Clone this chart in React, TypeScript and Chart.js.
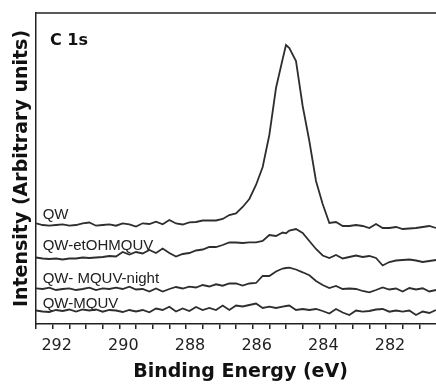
import { useEffect, useRef } from "react";
import { Chart, registerables } from "chart.js";

Chart.register(...registerables);

// Binding energies (eV) of the sampled points
const energies = [
  292.5, 292.3, 292.1, 291.9, 291.7, 291.5, 291.3, 291.1, 290.9, 290.7,
  290.5, 290.3, 290.1, 289.9, 289.7, 289.5, 289.3, 289.1, 288.9, 288.7,
  288.5, 288.3, 288.1, 287.9, 287.7, 287.5, 287.3, 287.1, 286.9, 286.7,
  286.5, 286.3, 286.1, 285.9, 285.7, 285.5, 285.3, 285.1, 285.0, 284.9, 284.7,
  284.5, 284.3, 284.1, 283.9, 283.7, 283.5, 283.3, 283.1, 282.9, 282.7,
  282.5, 282.3, 282.1, 281.9, 281.7, 281.5, 281.3, 281.1, 280.9, 280.7,
  280.5,
];

// Stacked intensities (arbitrary units)
const qw = [
  100.7, 99, 98.3, 99, 99.7, 98.3, 99, 100.7, 101.5, 98.3,
  99, 99.7, 98.3, 100.7, 99.7, 97.5, 100.7, 100, 102.3, 99.7,
  104, 100.5, 99.5, 101.7, 102, 103.5, 103.5, 103.5, 105, 109,
  110.5, 117, 125, 139, 157, 189, 236, 265, 279, 276, 263,
  218, 183, 143, 120, 101, 102, 98, 98, 99, 98,
  96, 100, 96, 96, 97, 95, 95.5, 96, 97, 98,
  96,
];
const qwEtOHMQUV = [
  66.5, 65.5, 65, 65.5, 64.5, 65.5, 65.5, 66.5, 66, 66.5,
  67, 68, 67.5, 72, 69.5, 72, 70.5, 74, 71, 75.5,
  71, 67.5, 70, 71, 73.5, 74.5, 77, 77, 79, 81.5,
  81.5, 81, 81.7, 81.7, 83, 89, 88, 91.5, 90.7, 93.5, 95,
  91, 83, 75, 68.5, 66, 69, 65.5, 67, 68.5, 67,
  68, 66, 58.5, 62, 63.5, 64, 64.5, 63.5, 62, 63,
  64,
];
const qwMQUVNight = [
  35.7, 35, 36.3, 34, 35, 35.7, 34, 35, 36.3, 34,
  35.7, 35, 36.3, 35, 37.3, 34.5, 35, 32.5, 35.5, 32.5,
  35, 37, 35.5, 37.3, 36.5, 39, 37.5, 39.7, 38.3, 40.5,
  40.5, 38.5, 40.5, 41, 48, 48, 52.5, 55.5, 56, 56.3, 54.5,
  51.7, 48.7, 43, 39, 36, 38, 35, 35.5, 35, 33,
  31.7, 34, 36.5, 34.5, 35.5, 32.5, 36, 34.5, 35.7, 32.5,
  34,
];
const qwMQUV = [
  13.5, 12.5, 12, 14, 13, 14.5, 12.5, 14.5, 13.5, 14.5,
  12.3, 14, 13.5, 12, 14, 12.5, 14, 11.7, 15.5, 14,
  17.3, 12.5, 15.5, 13, 17, 14, 16, 14, 18.5, 14,
  18.5, 17.5, 19, 20.5, 16, 17.3, 16, 17.3, 18, 18.5, 14,
  15, 14, 15, 13, 10.5, 15, 11.5, 9, 13.5, 12.3,
  13, 14.5, 15, 12.3, 13.5, 12.3, 13.5, 9, 12.5, 11,
  14,
];

const seriesNames = ["QW", "QW-etOHMQUV", "QW- MQUV-night", "QW-MQUV"];
const seriesValues = [qw, qwEtOHMQUV, qwMQUVNight, qwMQUV];
// label anchors (data units)
const labelEnergy = 292.3;
const labelLevels = [105.5, 74.5, 41.2, 15.7];
const panelTitle = "C 1s";
const panelEnergy = 292.08;
const panelLevel = 279;

const tickLabels = [292, 290, 288, 286, 284, 282];
const xMax = 292.5;
const xMin = 280.23;
const yMin = 0;
const yMax = 311;
const xTitle = "Binding Energy (eV)";
const yTitle = "Intensity (Arbitrary units)";

const INK = "#222";
const LINE = "#2e2e2e";

const annotations = {
  id: "annotations",
  afterDraw(chart: any) {
    const { ctx, chartArea, scales } = chart;
    const x = scales.x;
    const y = scales.y;
    ctx.save();
    ctx.strokeStyle = INK;
    ctx.lineWidth = 1.5;
    ctx.beginPath();
    ctx.moveTo(chartArea.left, chartArea.top);
    ctx.lineTo(chartArea.right, chartArea.top);
    ctx.stroke();

    ctx.fillStyle = INK;
    ctx.textAlign = "left";
    ctx.textBaseline = "alphabetic";
    ctx.font = '15px "Liberation Sans", Arial, sans-serif';
    seriesNames.forEach((name, i) => {
      ctx.fillText(name, x.getPixelForValue(labelEnergy), y.getPixelForValue(labelLevels[i]));
    });
    ctx.fillStyle = "#111";
    ctx.font = 'bold 16px "DejaVu Sans", sans-serif';
    ctx.fillText(panelTitle, x.getPixelForValue(panelEnergy), y.getPixelForValue(panelLevel));
    ctx.restore();
  },
};

export default function App() {
  const canvasRef = useRef<HTMLCanvasElement | null>(null);

  useEffect(() => {
    const canvas = canvasRef.current;
    if (!canvas) return;
    const tickValues: number[] = [];
    for (let v = 281; v <= 292.5; v += 0.5) tickValues.push(v);

    const chart = new Chart(canvas, {
      type: "line",
      data: {
        datasets: seriesValues.map((vals, i) => ({
          label: seriesNames[i],
          data: energies.map((e, j) => ({ x: e, y: vals[j] })),
          borderColor: LINE,
          borderWidth: 1.8,
          pointRadius: 0,
          tension: 0,
          fill: false,
        })),
      },
      options: {
        animation: false,
        responsive: false,
        maintainAspectRatio: false,
        layout: { padding: { left: 8, top: 13, right: 0, bottom: 8 } },
        plugins: {
          legend: { display: false },
          tooltip: { enabled: false },
        },
        scales: {
          x: {
            type: "linear",
            reverse: true,
            min: xMin,
            max: xMax,
            afterBuildTicks: (axis: any) => {
              axis.ticks = tickValues.map((v) => ({ value: v }));
            },
            grid: {
              display: true,
              drawOnChartArea: false,
              drawTicks: true,
              tickLength: 5,
              color: INK,
              lineWidth: 1.5,
            },
            border: { display: true, color: INK, width: 1.5 },
            ticks: {
              autoSkip: false,
              maxRotation: 0,
              minRotation: 0,
              padding: 9,
              labelOffset: 4,
              color: INK,
              font: { family: '"DejaVu Sans", sans-serif', size: 16, lineHeight: 1 },
              callback: (value: any) => (tickLabels.includes(Number(value)) ? String(value) : ""),
            },
            title: {
              display: true,
              text: xTitle,
              color: "#111",
              padding: { top: 0, bottom: 0 },
              font: { family: '"DejaVu Sans", sans-serif', size: 19, weight: "bold", lineHeight: 1 },
            },
          },
          y: {
            type: "linear",
            min: yMin,
            max: yMax,
            grid: { display: true, drawOnChartArea: false, drawTicks: false },
            border: { display: true, color: INK, width: 1.5 },
            ticks: { display: false },
            title: {
              display: true,
              text: yTitle,
              color: "#111",
              padding: { top: 5, bottom: 4 },
              font: { family: '"DejaVu Sans", sans-serif', size: 19, weight: "bold", lineHeight: 1 },
            },
          },
        },
      },
      plugins: [annotations],
    });
    return () => chart.destroy();
  }, []);

  return (
    <div
      style={{
        position: "fixed",
        left: 0,
        top: 0,
        width: 436,
        height: 390,
        overflow: "hidden",
        background: "#fff",
      }}
    >
      <canvas
        ref={canvasRef}
        width={445}
        height={390}
        style={{ display: "block", width: 445, height: 390 }}
      />
    </div>
  );
}
